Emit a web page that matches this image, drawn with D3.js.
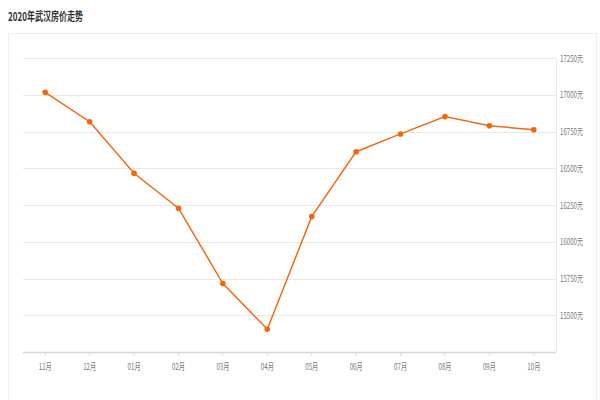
<!DOCTYPE html>
<html>
<head>
<meta charset="utf-8">
<script src="https://cdn.jsdelivr.net/npm/d3@7/dist/d3.min.js"></script>
<style>
html,body{margin:0;padding:0;background:#fff;}
svg{display:block;}
</style>
</head>
<body>
<svg id="chart" width="600" height="400"></svg>
<script>
const title = "2020年武汉房价走势";
const months = ["11月","12月","01月","02月","03月","04月","05月","06月","07月","08月","09月","10月"];
const prices = [17018, 16818, 16467, 16229, 15716, 15405, 16172, 16614, 16735, 16853, 16791, 16763];
const yTicks = [15500, 15750, 16000, 16250, 16500, 16750, 17000, 17250];

const svg = d3.select("#chart");
const font = "'Noto Sans CJK SC', 'Noto Sans', sans-serif";

// outer box
svg.append("rect").attr("x", 8.5).attr("y", 33.5).attr("width", 588).attr("height", 380)
  .attr("fill", "none").attr("stroke", "#eeeeee");

svg.append("text").attr("x", 8).attr("y", 21).text(title)
  .attr("font-family", font).attr("font-size", 12).attr("font-weight", "bold")
  .attr("fill", "#333").attr("textLength", 75).attr("lengthAdjust", "spacingAndGlyphs");

const pLeft = 23, pRight = 556, pTop = 58.3, pBottom = 352;
const x = d3.scaleBand().domain(months).range([pLeft, pRight]);
const y = d3.scaleLinear().domain([15250, 17250]).range([pBottom, pTop]);

// grid
svg.append("g").selectAll("line").data(yTicks).join("line")
  .attr("x1", pLeft).attr("x2", pRight)
  .attr("y1", d => Math.round(y(d)) + 0.5).attr("y2", d => Math.round(y(d)) + 0.5)
  .attr("stroke", "#e8e8e8").attr("stroke-width", 1);

// right axis line
svg.append("line").attr("x1", pRight + 0.5).attr("x2", pRight + 0.5).attr("y1", Math.round(pTop)).attr("y2", pBottom)
  .attr("stroke", "#e8e8e8");

// right axis labels
const yAxis = d3.axisRight(y).tickValues(yTicks).tickSize(0).tickPadding(4).tickFormat(d => d + "元");
const ga = svg.append("g").attr("transform", `translate(${pRight},0)`).call(yAxis);
ga.select(".domain").remove();
ga.selectAll("text").attr("font-family", font).attr("font-size", 9).attr("fill", "#777")
  .attr("textLength", 23).attr("lengthAdjust", "spacingAndGlyphs");

// bottom axis
const xAxis = d3.axisBottom(x).tickSize(4).tickPadding(8);
const gx = svg.append("g").attr("transform", `translate(0,${pBottom})`).call(xAxis);
gx.select(".domain").attr("stroke", "#d8d8d8").attr("stroke-width", 1.5)
  .attr("d", `M${pLeft},0.5H${pRight}`);
gx.selectAll(".tick line").attr("stroke", "#dddddd");
gx.selectAll("text").attr("font-family", font).attr("font-size", 9).attr("fill", "#777")
  .attr("textLength", 13).attr("lengthAdjust", "spacingAndGlyphs");

// line
const cx = d => x(d) + x.bandwidth() / 2;
const line = d3.line().x((d, i) => cx(months[i])).y(d => y(d));
svg.append("path").datum(prices).attr("d", line)
  .attr("fill", "none").attr("stroke", "#f26a12").attr("stroke-width", 1.5);
svg.append("g").selectAll("circle").data(prices).join("circle")
  .attr("cx", (d, i) => cx(months[i])).attr("cy", d => y(d)).attr("r", 2.8)
  .attr("fill", "#f5650e");
</script>
</body>
</html>
